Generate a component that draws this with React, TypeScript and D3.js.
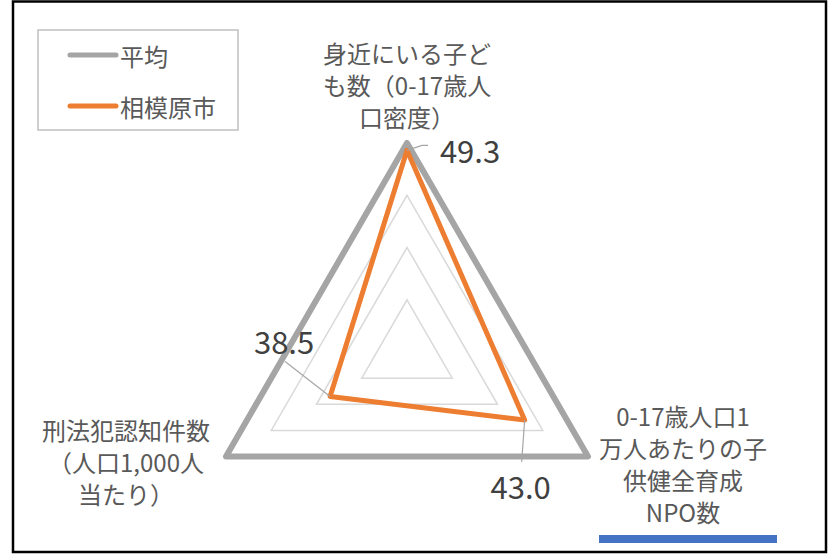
import React from "react";
import * as d3 from "d3";

const categories: string[][] = [
  ["身近にいる子ど", "も数（0-17歳人", "口密度）"],
  ["0-17歳人口1", "万人あたりの子", "供健全育成", "NPO数"],
  ["刑法犯認知件数", "（人口1,000人", "当たり）"],
];
const seriesNames = ["平均", "相模原市"];
const averageValues = [50, 50, 50];
const cityValues = [49.3, 43.0, 38.5];
const valueLabels = ["49.3", "43.0", "38.5"];
const gridLevels = [30, 35, 40, 45, 50];

const W = 832;
const H = 556;
const cx = 407;
const cy = 352;
const R = 209;
const TEXT = "#595959";
const FONT = "'Noto Sans CJK JP', 'Noto Sans', sans-serif";

export default function App() {
  const r = d3.scaleLinear().domain([30, 50]).range([0, R]);
  const angle = (i: number) => -Math.PI / 2 + (i * 2 * Math.PI) / 3;
  const pt = (i: number, v: number): [number, number] => [
    cx + r(v) * Math.cos(angle(i)),
    cy + r(v) * Math.sin(angle(i)),
  ];
  const line = d3.line<[number, number]>().curve(d3.curveLinearClosed);
  const poly = (vals: number[]) => line(vals.map((v, i) => pt(i, v))) as string;

  const cityPts = cityValues.map((v, i) => pt(i, v));

  const labelOffsets: [number, number][] = [
    [63, -1],
    [-4, 66],
    [-46, -56],
  ];
  const leaderEnds: [number, number][][] = [
    [[15, -5], [21, -5]],
    [[-3, 42]],
    [[-45, -35]],
  ];

  const catPos: { x: number; y: number }[] = [
    { x: 407, y: 52 },
    { x: 683, y: 415 },
    { x: 126, y: 429 },
  ];

  return (
    <svg width={W} height={H} style={{ position: "absolute", left: 0, top: 0, display: "block" }}>
      <rect x={0} y={0} width={W} height={H} fill="#fff" />
      <rect x={13} y={1.5} width={813} height={550.5} fill="#fff" stroke="#000" strokeWidth={2.5} />
      {gridLevels.slice(1, -1).map((lv) => (
        <path key={lv} d={poly([lv, lv, lv])} fill="none" stroke="#D9D9D9" strokeWidth={1.5} />
      ))}
      <path d={poly(averageValues)} fill="none" stroke="#A5A5A5" strokeWidth={6} strokeLinejoin="round" />
      <path d={poly(cityValues)} fill="none" stroke="#ED7D31" strokeWidth={5} strokeLinejoin="round" />
      {cityPts.map((p, i) => {
        const pts = [p, ...leaderEnds[i].map(([dx, dy]) => [p[0] + dx, p[1] + dy] as [number, number])];
        return (
          <g key={i}>
            <path d={d3.line()(pts) as string} fill="none" stroke="#A6A6A6" strokeWidth={1.2} />
            <text
              x={p[0] + labelOffsets[i][0]}
              y={p[1] + labelOffsets[i][1]}
              textAnchor="middle"
              dominantBaseline="central"
              fontSize={31}
              fontFamily={FONT}
              fill="#404040"
            >
              {valueLabels[i]}
            </text>
          </g>
        );
      })}
      {categories.map((lines, i) => (
        <text key={i} textAnchor="middle" fontSize={24} fontFamily={FONT} fill={TEXT}>
          {lines.map((l, j) => (
            <tspan key={j} x={catPos[i].x} y={catPos[i].y + j * 32} dominantBaseline="central">
              {l}
            </tspan>
          ))}
        </text>
      ))}
      <rect x={38} y={30} width={200} height={100} fill="#fff" stroke="#BFBFBF" strokeWidth={1.5} />
      {seriesNames.map((n, i) => (
        <g key={n}>
          <line
            x1={70}
            x2={116}
            y1={55 + i * 51}
            y2={55 + i * 51}
            stroke={i === 0 ? "#A5A5A5" : "#ED7D31"}
            strokeWidth={5}
            strokeLinecap="round"
          />
          <text x={120} y={55 + i * 51} dominantBaseline="central" fontSize={24} fontFamily={FONT} fill={TEXT}>
            {n}
          </text>
        </g>
      ))}
      <rect x={599} y={535} width={178} height={8} fill="#4472C4" />
    </svg>
  );
}
